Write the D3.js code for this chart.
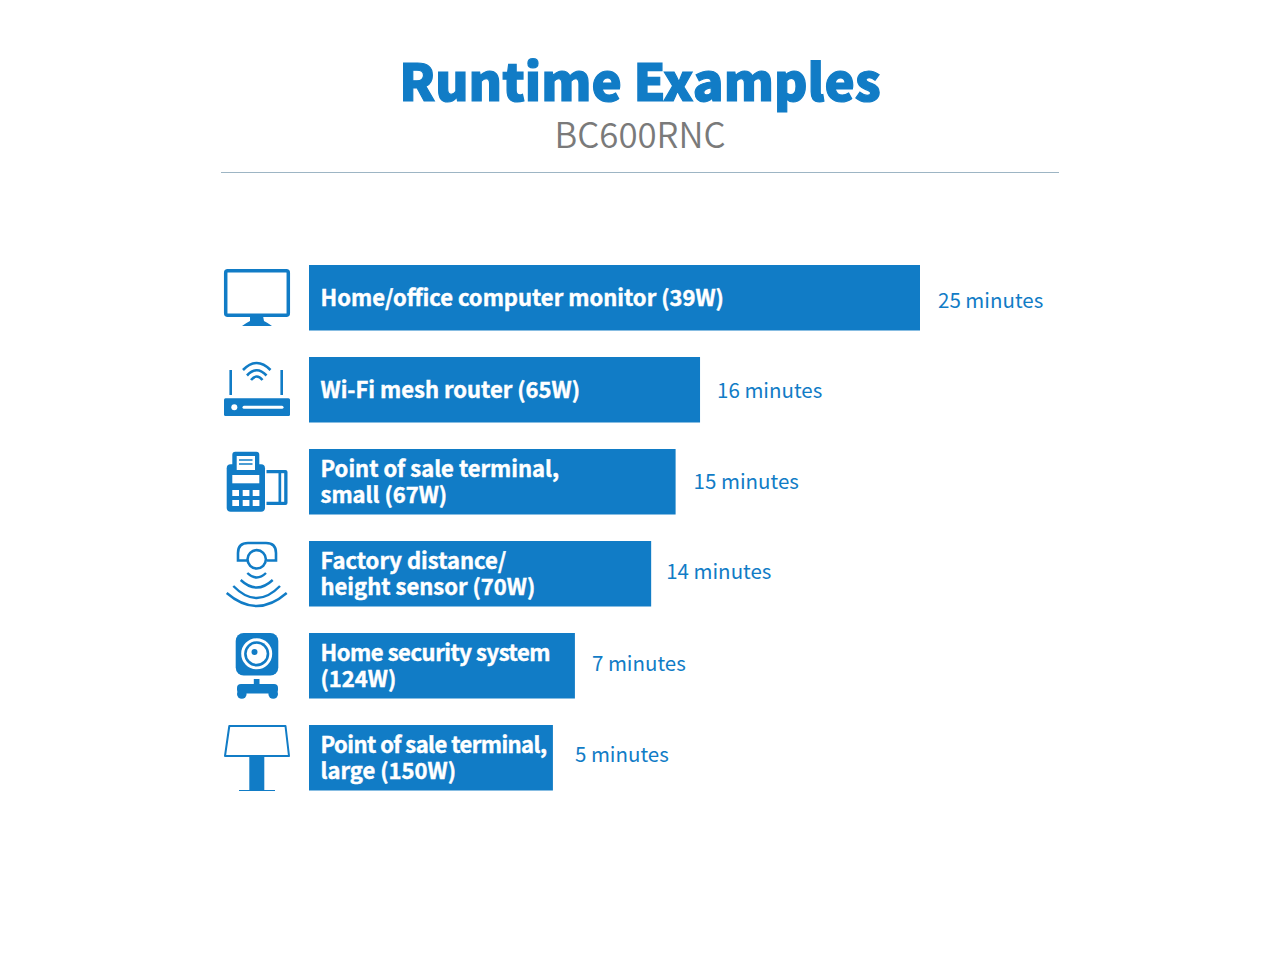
<!DOCTYPE html>
<html><head><meta charset="utf-8">
<script src="https://cdn.jsdelivr.net/npm/d3@7"></script>
<style>html,body{margin:0;background:#fff}svg{display:block}text{font-family:"Noto Sans CJK SC","Noto Sans",sans-serif}</style>
</head><body><svg id="c" width="1280" height="960"></svg>
<script>
const devices = [["Home/office computer monitor (39W)"],["Wi-Fi mesh router (65W)"],["Point of sale terminal,","small (67W)"],["Factory distance/","height sensor (70W)"],["Home security system","(124W)"],["Point of sale terminal,","large (150W)"]];
const barLengths = [25,16,15,14,10.88,9.98];
const runtimeLabels = ["25 minutes","16 minutes","15 minutes","14 minutes","7 minutes","5 minutes"];
const iconNames = ["monitor","router","pos","sensor","camera","kiosk"];
const labelDx = [18,17,18,15,17,22];
const labelDy = [10,8,7,5,5,4];
const firstLineTracking = [0,0,0,0,-0.45,-0.55];
const blue = "#117cc6";
const svg = d3.select("#c");
svg.append("text").attr("x",640).attr("y",101).attr("text-anchor","middle").attr("fill",blue).attr("stroke",blue).attr("stroke-width",1.2).attr("font-size",51).attr("font-weight",900).text("Runtime Examples");
svg.append("text").attr("x",640).attr("y",148).attr("text-anchor","middle").attr("fill","#7a7a7a").attr("font-size",34.8).attr("font-weight",350).text("BC600RNC");
svg.append("line").attr("x1",221).attr("x2",1059).attr("y1",172.5).attr("y2",172.5).attr("stroke","#9db5c4").attr("stroke-width",1);
const x = d3.scaleLinear().domain([0,25]).range([309,920]);
const y = d3.scaleBand().domain(d3.range(devices.length)).range([265,265+92*5+65.5]).paddingInner(26.5/92).paddingOuter(0);
const rows = svg.selectAll("g.row").data(devices).join("g").attr("class","row");
rows.append("rect").attr("x",x(0)).attr("y",(d,i)=>y(i)).attr("width",(d,i)=>x(barLengths[i])-x(0)).attr("height",y.bandwidth()).attr("fill",blue);
rows.each(function(lines,i){
  const g=d3.select(this), mid=y(i)+y.bandwidth()/2;
  lines.forEach((t,k)=>{
    g.append("text").attr("x",320.5).attr("y",mid+(k-(lines.length-1)/2)*25.5+8).attr("fill","#fff").attr("stroke","#fff").attr("stroke-width",0.45).attr("font-size",22).attr("font-weight",700).attr("letter-spacing",k===0?firstLineTracking[i]:0).text(t);
  });
  g.append("text").attr("x",x(barLengths[i])+labelDx[i]).attr("y",mid+labelDy[i]).attr("fill",blue).attr("font-size",20.5).attr("font-weight",400).text(runtimeLabels[i]);
});
const icons = {
 monitor(g){
  g.append("rect").attr("x",10.7).attr("y",5.7).attr("width",62.6).attr("height",44.6).attr("rx",2).attr("fill","none").attr("stroke",blue).attr("stroke-width",3.5);
  g.append("path").attr("d","M35 51L48 51L49 56Q53 58 57 61L27 61Q31 58 35 56Z").attr("fill",blue);
 },
 router(g){
  g.append("rect").attr("x",9).attr("y",41.3).attr("width",66).attr("height",17.7).attr("rx",1.5).attr("fill",blue);
  g.append("circle").attr("cx",19.3).attr("cy",50.3).attr("r",3).attr("fill","#fff");
  g.append("line").attr("x1",29).attr("x2",67).attr("y1",50.3).attr("y2",50.3).attr("stroke","#fff").attr("stroke-width",3).attr("stroke-linecap","round");
  [15.7,66.7].forEach(a=>g.append("line").attr("x1",a).attr("x2",a).attr("y1",13).attr("y2",38).attr("stroke",blue).attr("stroke-width",2.6));
  ["M28 13Q41.7 -1 55.5 13","M32 18.5Q41.7 8 51.5 18.5","M36 23Q41.7 16 47.5 23"].forEach(d=>g.append("path").attr("d",d).attr("fill","none").attr("stroke",blue).attr("stroke-width",2.6));
 },
 pos(g){
  g.append("rect").attr("x",17.3).attr("y",2.7).attr("width",27).attr("height",20).attr("rx",3).attr("fill",blue);
  g.append("rect").attr("x",11.7).attr("y",15.3).attr("width",38.3).attr("height",47.4).attr("rx",4).attr("fill",blue);
  g.append("rect").attr("x",21.7).attr("y",7).attr("width",18.3).attr("height",14).attr("fill","#fff");
  [11,15].forEach(a=>g.append("line").attr("x1",24).attr("x2",37.5).attr("y1",a).attr("y2",a).attr("stroke",blue).attr("stroke-width",1.5));
  g.append("rect").attr("x",17.3).attr("y",26).attr("width",27).attr("height",8.3).attr("fill","#fff");
  [17.3,27.7,37.7].forEach(a=>[41,51].forEach(b=>g.append("rect").attr("x",a).attr("y",b).attr("width",6.7).attr("height",6).attr("fill","#fff")));
  g.append("path").attr("d","M51.5 21H70.5Q72.5 21 72.5 23V54Q72.5 56 70.5 56H51.5V52.8H63.5V24.2H51.5Z").attr("fill",blue);
  g.append("rect").attr("x",66.2).attr("y",24.2).attr("width",3).attr("height",28.6).attr("fill","#fff");
 },
 sensor(g){
  g.append("path").attr("d","M32 19.5H23V12Q23 2 33 2H51Q61 2 61 12V19.5H52").attr("fill","none").attr("stroke",blue).attr("stroke-width",2.6);
  g.append("circle").attr("cx",41.7).attr("cy",18.3).attr("r",9.2).attr("fill","#fff").attr("stroke",blue).attr("stroke-width",2.6);
  [[32.3,32,51,36.5],[25.7,39,57.7,46.5],[18.3,45,65,57],[11.7,52,71.7,65]].forEach(a=>{
    g.append("path").attr("d",`M${a[0]} ${a[1]}Q41.7 ${a[3]+(a[3]-a[1])} ${a[2]} ${a[1]}`).attr("fill","none").attr("stroke",blue).attr("stroke-width",2.4);
  });
 },
 camera(g){
  g.append("rect").attr("x",20.7).attr("y",0).attr("width",42.6).attr("height",42.6).attr("rx",8).attr("fill",blue);
  g.append("circle").attr("cx",41.7).attr("cy",20.8).attr("r",15.5).attr("fill","#fff");
  g.append("circle").attr("cx",41.7).attr("cy",20.8).attr("r",12.6).attr("fill",blue);
  g.append("circle").attr("cx",41.7).attr("cy",20.8).attr("r",10).attr("fill","#fff");
  g.append("circle").attr("cx",39.5).attr("cy",19).attr("r",3).attr("fill",blue);
  g.append("rect").attr("x",38.8).attr("y",46).attr("width",5.7).attr("height",7).attr("fill",blue);
  g.append("rect").attr("x",22).attr("y",51).attr("width",41).attr("height",9.5).attr("rx",4).attr("fill",blue);
  [26.8,58.2].forEach(a=>g.append("circle").attr("cx",a).attr("cy",61).attr("r",4.8).attr("fill",blue));
 },
 kiosk(g){
  g.append("path").attr("d","M14.3 1H70.5L74 31H10Z").attr("fill","none").attr("stroke",blue).attr("stroke-width",2).attr("stroke-linejoin","round");
  g.append("rect").attr("x",34.3).attr("y",31).attr("width",15).attr("height",34.6).attr("fill",blue);
  g.append("line").attr("x1",24).attr("x2",60).attr("y1",65.5).attr("y2",65.5).attr("stroke",blue).attr("stroke-width",1);
 }
};
iconNames.forEach((n,i)=>icons[n](svg.append("g").attr("transform",`translate(215,${y(i)})`)));
</script></body></html>
